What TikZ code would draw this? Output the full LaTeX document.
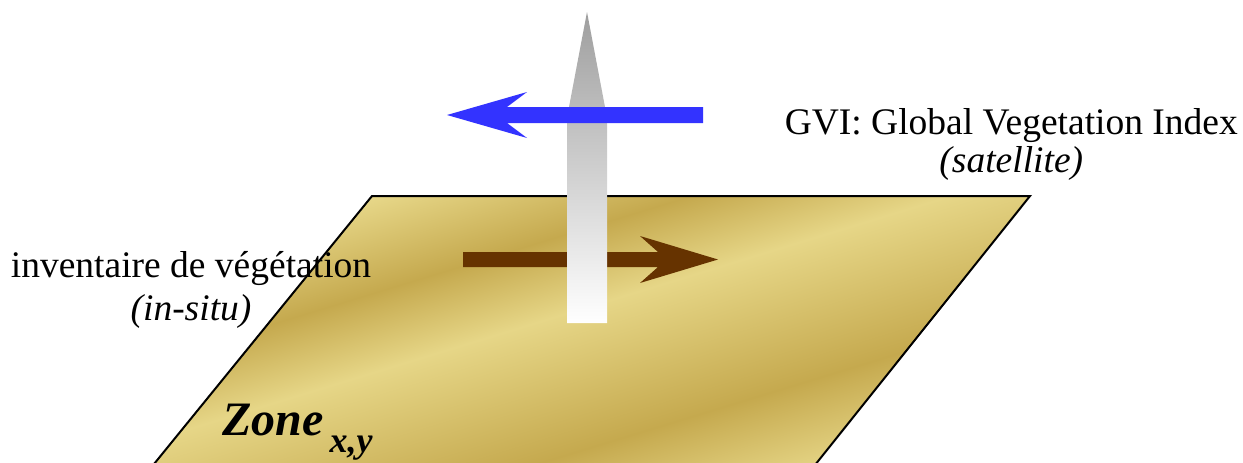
\documentclass[tikz,border=0pt]{standalone}
\usepackage{fontspec}
\setmainfont{Liberation Serif}
\usetikzlibrary{positioning}

\definecolor{goldlight}{RGB}{230,214,135}
\definecolor{golddark}{RGB}{197,169,78}
\definecolor{arrowblue}{RGB}{51,51,255}
\definecolor{arrowbrown}{RGB}{102,51,0}

\pgfdeclareverticalshading{goldbands}{100bp}{%
  color(0bp)=(goldlight); color(33.3bp)=(goldlight); color(40.7bp)=(golddark);
  color(52bp)=(goldlight); color(58.3bp)=(golddark); color(65.8bp)=(goldlight);
  color(100bp)=(goldlight)}

\begin{document}
\begin{tikzpicture}[
    x=1pt, y=-1pt,
    txt/.style={inner sep=0pt, font=\fontsize{37.5}{44}\selectfont},
    itxt/.style={txt, font=\fontsize{37.5}{44}\selectfont\itshape},
    plate/.style={draw=black, line width=2pt, line join=miter},
]
\useasboundingbox (0,0) rectangle (1243,463);
\clip (0,0) rectangle (1243,463);

% Zone plate
\begin{scope}
    \clip (372,196) -- (1030,196) -- (803,480) -- (141,480) -- cycle;
    \begin{scope}[transform canvas={shift={(382,290)}, rotate=17}]
        \shade[shading=goldbands] (-400,-200) rectangle (800,400);
    \end{scope}
\end{scope}
\draw[plate] (141,480) -- (372,196) -- (1030,196) -- (803,480);

% In-situ arrow
\fill[arrowbrown] (463,252) -- (658,252) -- (640,236) -- (718,259.5)
    -- (640,283) -- (658,267) -- (463,267) -- cycle;

% Vertical arrow
\shade[top color=black!38, bottom color=white] (567,323) -- (567,107) -- (569,107)
    -- (587,12) -- (605,107) -- (607,107) -- (607,323) -- cycle;

% Satellite arrow
\fill[arrowblue] (703,107) -- (507,107) -- (527,92) -- (447,115)
    -- (527,138) -- (507,123) -- (703,123) -- cycle;

% Labels
\node[txt, anchor=base east] (gvi) at (1238,134) {GVI: Global Vegetation Index};
\node[itxt, anchor=base] (sat) at (gvi.base |- 0,172) {(satellite)};
\node[txt, anchor=base] (inv) at (191,277) {inventaire de végétation};
\node[itxt, anchor=base] (insitu) at (inv.base |- 0,320) {(in-situ)};
\node[inner sep=0pt, anchor=base west, font=\fontsize{48}{48}\selectfont\bfseries\itshape]
    (zone) at (222,435) {Zone\hspace{6pt}\raisebox{-17pt}{\fontsize{36}{36}\selectfont x,y}};
\end{tikzpicture}
\end{document}
